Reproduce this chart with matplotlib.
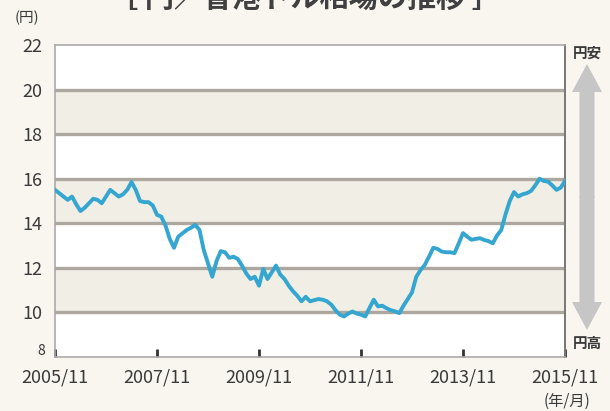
import matplotlib
matplotlib.use("Agg")
import matplotlib.pyplot as plt
from matplotlib.patches import FancyArrow
import numpy as np

plt.rcParams['font.family'] = ['Noto Sans CJK JP', 'DejaVu Sans']

title = "［ 円／香港ドル相場の推移 ］"
xtick_labels = ["2005/11", "2007/11", "2009/11", "2011/11", "2013/11", "2015/11"]
yticks = [8, 10, 12, 14, 16, 18, 20, 22]

# monthly JPY per HKD, 2005/11 .. 2015/11
rates = [
    15.5, 15.35, 15.2, 15.05, 15.2, 14.85, 14.55, 14.7, 14.9, 15.1, 15.05, 14.9,   # 2005/11-2006/10
    15.2, 15.5, 15.35, 15.2, 15.3, 15.5, 15.85, 15.5, 15.0, 14.95, 14.95, 14.8,    # 2006/11-2007/10
    14.38, 14.3, 13.9, 13.3, 12.9, 13.4, 13.55, 13.7, 13.8, 13.93, 13.7, 12.8,     # 2007/11-2008/10
    12.2, 11.6, 12.3, 12.75, 12.7, 12.45, 12.5, 12.4, 12.1, 11.75, 11.5, 11.6,     # 2008/11-2009/10
    11.2, 11.95, 11.5, 11.8, 12.1, 11.7, 11.5, 11.2, 10.95, 10.75, 10.5, 10.7,     # 2009/11-2010/10
    10.5, 10.55, 10.6, 10.57, 10.5, 10.35, 10.1, 9.9, 9.82, 9.95, 10.04, 9.95,     # 2010/11-2011/10
    9.9, 9.82, 10.2, 10.57, 10.27, 10.3, 10.19, 10.1, 10.05, 9.97, 10.3, 10.6,     # 2011/11-2012/10
    10.9, 11.6, 11.9, 12.13, 12.5, 12.9, 12.85, 12.73, 12.7, 12.7, 12.66, 13.1,    # 2012/11-2013/10
    13.56, 13.4, 13.26, 13.3, 13.33, 13.25, 13.2, 13.1, 13.45, 13.7, 14.4, 15.0,   # 2013/11-2014/10
    15.4, 15.2, 15.3, 15.35, 15.45, 15.7, 16.0, 15.9, 15.87, 15.7, 15.5, 15.6,     # 2014/11-2015/10
    15.9,                                                                           # 2015/11
]
months = np.arange(len(rates))

bg = "#f8f6ef"
band = "#f1eee5"
grid_c = "#aca79f"
line_c = "#34a6cf"
text_c = "#3a3a3a"

fig = plt.figure(figsize=(6.1, 4.11), dpi=100, facecolor=bg)
ax = fig.add_axes([55/610, 1 - 357/411, 510/610, 312/411])
ax.set_facecolor("white")

for lo in (10, 14, 18):
    ax.axhspan(lo, lo + 2, color=band, zorder=0, lw=0)
for y in (10, 12, 14, 16, 18, 20):
    ax.axhline(y, color=grid_c, lw=2.4, zorder=1)

ax.plot(months, rates, color=line_c, lw=2.8, zorder=3, solid_joinstyle='round')

ax.set_xlim(0, 120)
ax.set_ylim(8, 22)
ax.set_yticks(yticks)
ax.set_yticklabels([""] + [str(v) for v in yticks[1:]])
ax.set_xticks([0, 24, 48, 72, 96, 120])
ax.set_xticklabels(xtick_labels)
ax.tick_params(axis='y', length=0, labelsize=13, labelcolor=text_c, pad=9)
ax.tick_params(axis='x', direction='in', length=6, width=2, color="#333333",
               labelsize=13, labelcolor=text_c, pad=8)

for s in ("left", "top", "bottom"):
    ax.spines[s].set_color("#aaaaaa")
    ax.spines[s].set_linewidth(1.2)
ax.spines["right"].set_color("#777777")
ax.spines["right"].set_linewidth(1.4)

# overlay in pixel coordinates for annotations
ov = fig.add_axes([0, 0, 1, 1], facecolor="none")
ov.set_xlim(0, 610)
ov.set_ylim(411, 0)
ov.axis("off")

arrow_c = "#c6c6c6"
ov.add_patch(FancyArrow(587, 198, 0, -134, width=15, head_width=30, head_length=28,
                        length_includes_head=True, color=arrow_c, lw=0))
ov.add_patch(FancyArrow(587, 196, 0, 134, width=15, head_width=30, head_length=28,
                        length_includes_head=True, color=arrow_c, lw=0))

ov.text(41, 351, str(yticks[0]), ha="center", va="center", fontsize=10, color=text_c)
ov.text(587, 53, "円安", ha="center", va="center", fontsize=10.5, fontweight="bold", color=text_c)
ov.text(587, 343, "円高", ha="center", va="center", fontsize=10.5, fontweight="bold", color=text_c)
ov.text(27, 18, "(円)", ha="center", va="center", fontsize=10.5, color=text_c)
ov.text(567, 401, "(年/月)", ha="center", va="center", fontsize=11, color=text_c)
ov.text(305, -2, title, ha="center", va="center", fontsize=21, fontweight="bold", color="#404040")

fig.savefig("out.png", dpi=100, facecolor=bg)
